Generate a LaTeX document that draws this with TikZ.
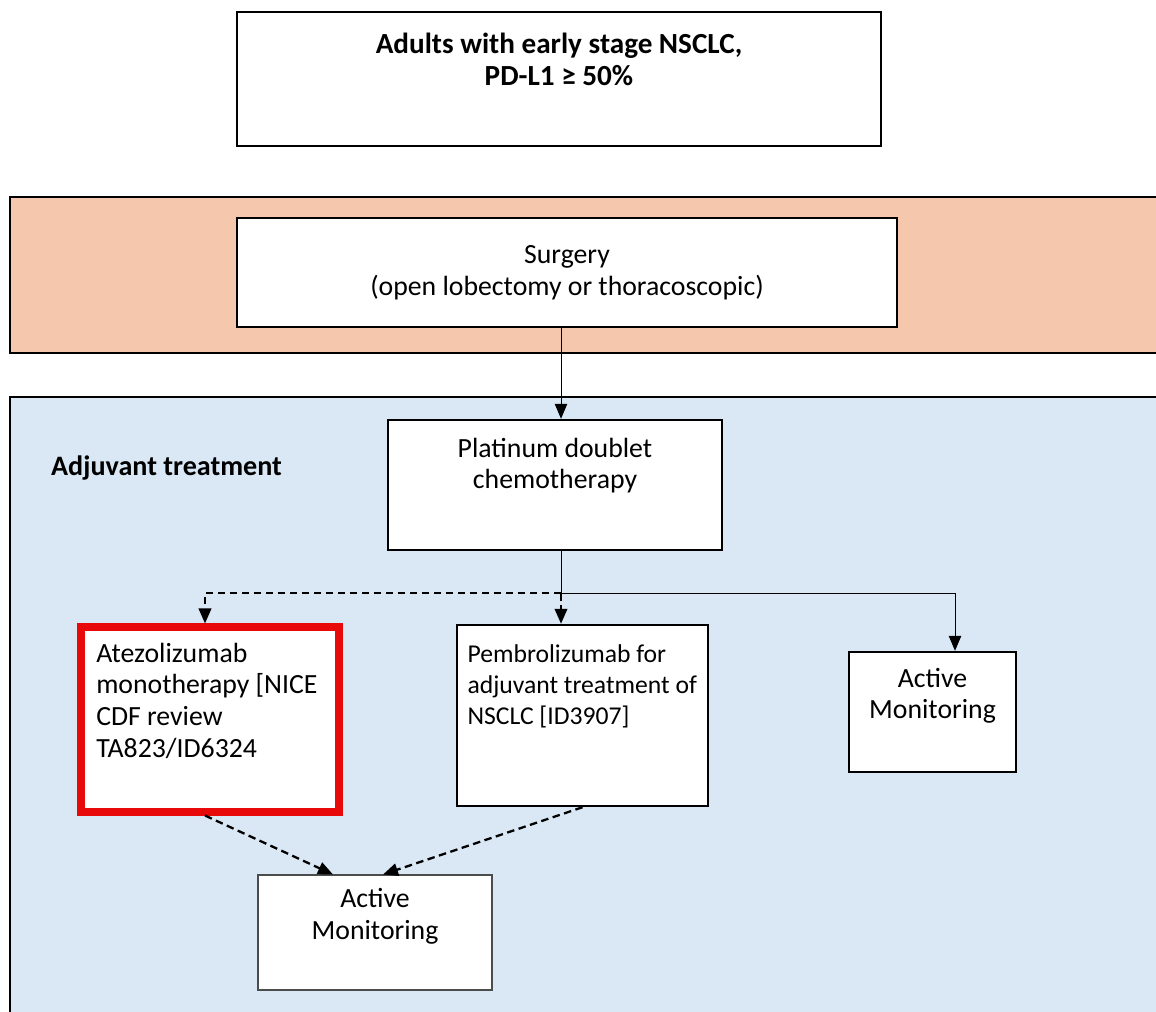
\documentclass[tikz,border=0pt]{standalone}
\usepackage{fontspec}
\setmainfont{Carlito}
\usetikzlibrary{arrows.meta}

\definecolor{bandorange}{HTML}{F5C8AE}
\definecolor{panelblue}{HTML}{DAE8F5}
\definecolor{alertred}{HTML}{E80A0A}

\begin{document}
\begin{tikzpicture}[
    every node/.style={font=\fontsize{15.8}{18}\selectfont},
    box/.style={draw, line width=1.4pt, fill=white, align=center},
    redbox/.style={draw=alertred, line width=4pt, fill=white},
    panel/.style={draw, line width=1.7pt},
    link/.style={line width=0.5pt},
    maybe/.style={line width=1.3pt, dash pattern=on 0.15cm off 0.09cm},
    >={Triangle[length=0.3cm, width=0.25cm]}]
    \clip (0,0) rectangle (23.12,-20.24);

    % population
    \node[box, minimum width=12.88cm, minimum height=2.68cm, text depth=0.8cm,
          font=\fontsize{16.6}{18}\selectfont\bfseries] (pop) at (11.18,-1.58)
        {Adults with early stage NSCLC,\\PD-L1 ≥ 50\%};

    % surgery band
    \fill[bandorange] (0.2,-3.94) rectangle (23.5,-7.06);
    \draw[panel] (0.2,-3.94) rectangle (23.5,-7.06);
    \node[box, minimum width=13.2cm, minimum height=2.18cm] (surgery) at (11.34,-5.45)
        {Surgery\\(open lobectomy or thoracoscopic)};

    % adjuvant panel
    \fill[panelblue] (0.2,-7.94) rectangle (23.5,-20.5);
    \draw[panel] (0.2,-7.94) rectangle (23.5,-20.5);
    \node[anchor=west, font=\fontsize{16}{18}\selectfont\bfseries] (adj) at (0.9,-9.36)
        {Adjuvant treatment};

    \node[box, minimum width=6.68cm, minimum height=2.6cm, text depth=0.86cm] (chemo) at (11.1,-9.7)
        {Platinum doublet\\chemotherapy};

    \node[redbox, minimum width=5.16cm, minimum height=3.7cm, text width=4.55cm,
          align=flush left, text depth=2.68cm] (atezo) at (4.2,-14.39)
        {Atezolizumab\\monotherapy [NICE\\CDF review\\TA823/ID6324};
    \node[box, minimum width=5.02cm, minimum height=3.62cm, text width=4.6cm, inner xsep=0.2cm,
          align=flush left, text depth=2.48cm, font=\fontsize{14.6}{17.8}\selectfont] (pembro) at (11.65,-14.31)
        {Pembrolizumab for\\adjuvant treatment of\\NSCLC [ID3907]};
    \node[box, minimum width=3.34cm, minimum height=2.4cm, text depth=0.74cm] (amright) at (18.65,-14.24)
        {Active\\Monitoring};
    \node[box, draw=black!70, line width=0.6pt, minimum width=4.68cm, minimum height=2.3cm,
          text depth=0.75cm] (amlow) at (7.5,-18.65)
        {Active\\Monitoring};

    % connectors
    \coordinate (split) at (11.22,-11.86);
    \draw[link, ->] (surgery.south -| split) -- (chemo.north -| split);
    \draw[link] (chemo.south -| split) -- (split);
    \draw[maybe, ->] (split) -| ([xshift=-0.1cm]atezo.north);
    \draw[maybe, ->] (split) -- (pembro.north -| split);
    \draw[link, ->] (split) -| ([xshift=0.45cm]amright.north);
    \draw[maybe, ->] ([xshift=-0.1cm]atezo.south) -- ([xshift=-0.84cm]amlow.north);
    \draw[maybe, ->] (pembro.south) -- ([xshift=0.16cm]amlow.north);
\end{tikzpicture}
\end{document}
